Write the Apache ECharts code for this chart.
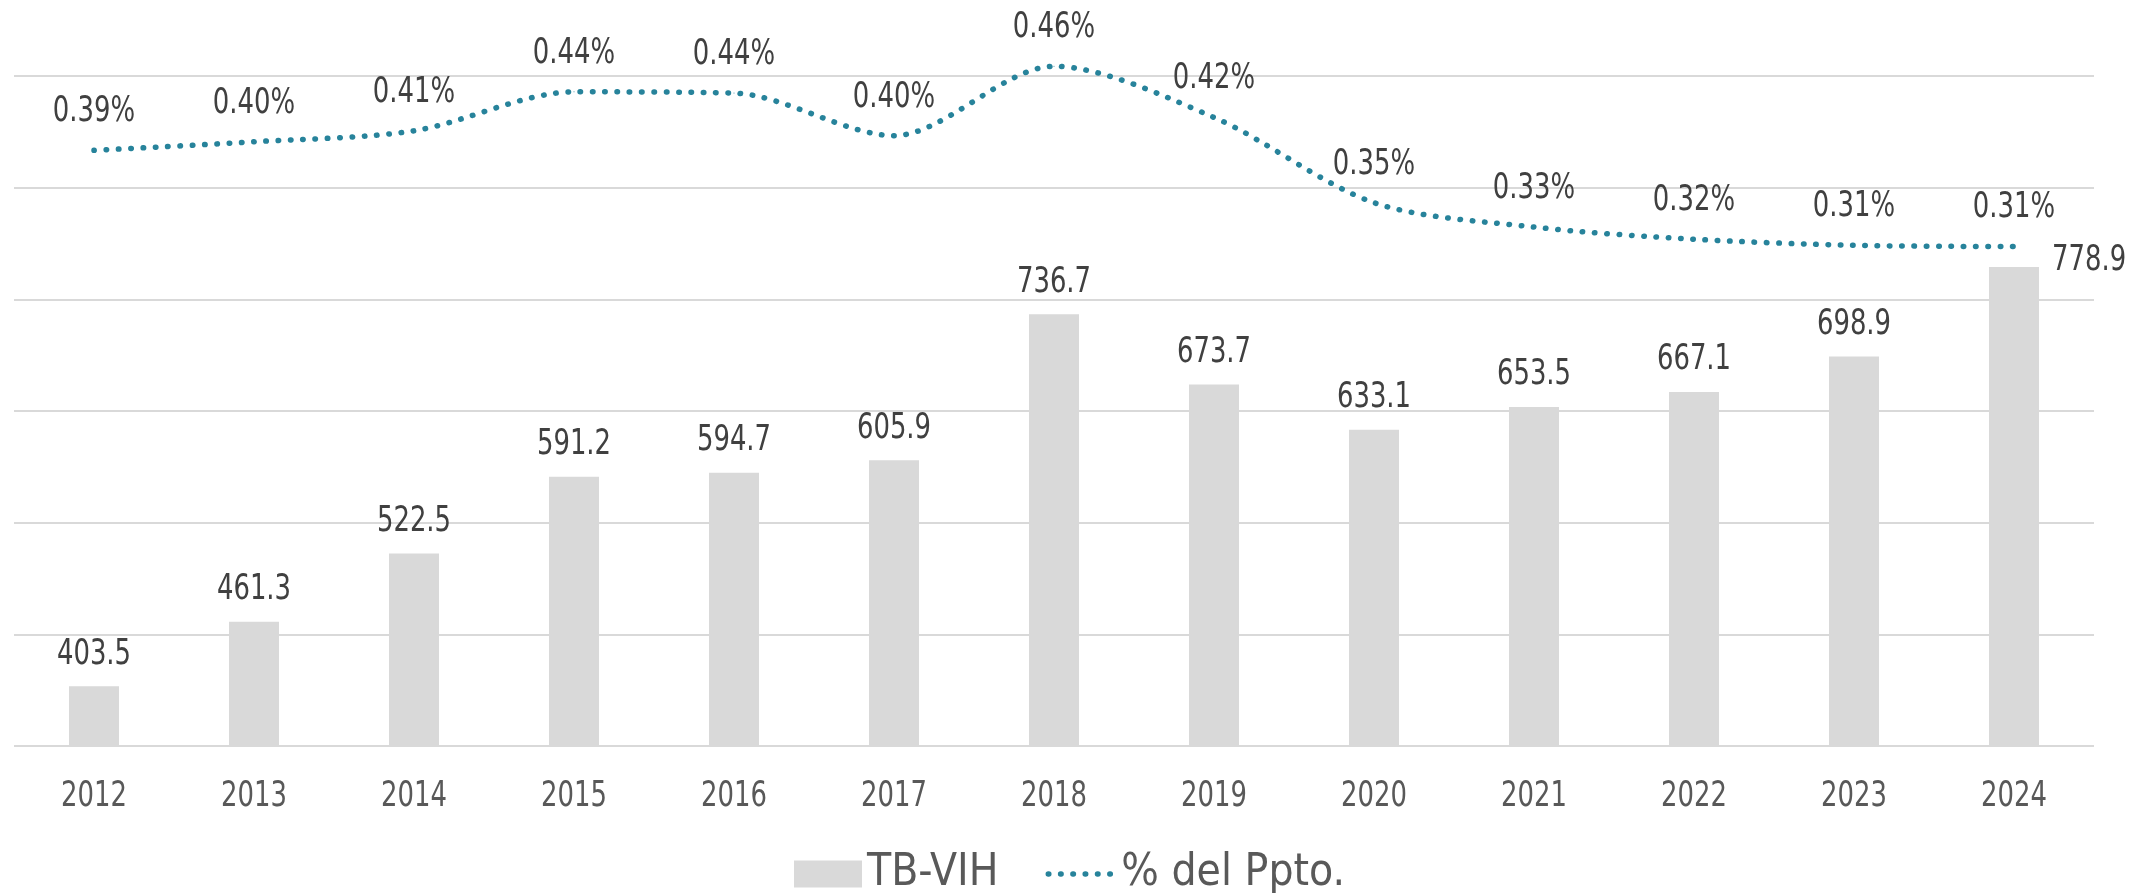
<!DOCTYPE html>
<html>
<head>
<meta charset="utf-8">
<script src="https://cdn.jsdelivr.net/npm/echarts@6/dist/echarts.min.js"></script>
<style>
html,body{margin:0;padding:0;background:#fff;}
#chart{width:2151px;height:893px;}
</style>
</head>
<body>
<div id="chart"></div>
<script>
const years = ['2012','2013','2014','2015','2016','2017','2018','2019','2020','2021','2022','2023','2024'];
const tbVih = [403.5, 461.3, 522.5, 591.2, 594.7, 605.9, 736.7, 673.7, 633.1, 653.5, 667.1, 698.9, 778.9];
const pctPpto = [0.389, 0.396, 0.405, 0.437, 0.436, 0.401, 0.458, 0.416, 0.346, 0.326, 0.316, 0.311, 0.310];
const seriesNames = ['TB-VIH', '% del Ppto.'];

const FONT = '"DejaVu Sans Condensed", "Liberation Sans", sans-serif';
const LABEL_SIZE = 36;
const chart = echarts.init(document.getElementById('chart'), null, {renderer: 'canvas'});

const barData = tbVih.map((v, i) => i === tbVih.length - 1 ? {
  value: v,
  label: {position: ['100%', 0], align: 'left', verticalAlign: 'middle', offset: [13, -6]}
} : v);

chart.setOption({
  animation: false,
  backgroundColor: '#ffffff',
  textStyle: {fontFamily: FONT},
  grid: {left: 14, right: 57, top: 76, bottom: 147, containLabel: false},
  legend: {
    left: 789, top: 847,
    itemWidth: 68, itemHeight: 27, itemGap: 47,
    textStyle: {fontFamily: FONT, fontSize: 44, color: '#595959'},
    data: [
      {name: seriesNames[0], icon: 'rect'},
      {name: seriesNames[1], itemStyle: {opacity: 0},
        lineStyle: {color: '#27839b', width: 5.5, type: [0.5, 11.8], cap: 'round'}}
    ]
  },
  xAxis: {
    type: 'category',
    data: years,
    boundaryGap: true,
    axisLine: {show: false},
    axisTick: {show: false},
    axisLabel: {fontFamily: FONT, fontSize: LABEL_SIZE, color: '#595959', margin: 33}
  },
  yAxis: [
    {type: 'value', min: 350, max: 950, show: false},
    {type: 'value', min: -0.1, max: 0.45, show: false},
    {type: 'value', min: 0, max: 6, interval: 1, position: 'left',
      axisLine: {show: false}, axisTick: {show: false}, axisLabel: {show: false},
      splitLine: {show: true, lineStyle: {color: '#d9d9d9', width: 2}}}
  ],
  series: [
    {
      name: seriesNames[0],
      type: 'bar',
      yAxisIndex: 0,
      barWidth: 50,
      itemStyle: {color: '#d9d9d9'},
      label: {show: true, position: 'top', distance: 14, fontFamily: FONT, fontSize: LABEL_SIZE, color: '#404040',
        formatter: p => p.value.toFixed(1)},
      data: barData,
      z: 2
    },
    {
      name: seriesNames[1],
      type: 'line',
      yAxisIndex: 1,
      smooth: 0.3,
      clip: false,
      symbol: 'circle',
      symbolSize: 1,
      showSymbol: true,
      itemStyle: {color: '#27839b'},
      lineStyle: {color: '#27839b', width: 5.5, type: [0.5, 11.8], cap: 'round'},
      label: {show: true, position: 'top', distance: 20, fontFamily: FONT, fontSize: LABEL_SIZE, color: '#404040',
        formatter: p => p.value.toFixed(2) + '%'},
      data: pctPpto,
      z: 3
    }
  ]
});

// The reference uses a narrow typeface; narrow the 36px text spans horizontally around their anchor.
function narrowTexts() {
  const zr = chart.getZr();
  const list = zr.storage.getDisplayList(true);
  list.forEach(el => {
    if ((el.type === 'tspan' || el.type === 'text') && el.style) {
      const font = String(el.style.font || '') + ' ' + String(el.style.fontSize || '');
      if (font.indexOf(LABEL_SIZE + 'px') >= 0 || el.style.fontSize === LABEL_SIZE) {
        el.scaleX = 0.8;
        el.markRedraw();
      }
    }
  });
  zr.refresh();
}
narrowTexts();
setTimeout(narrowTexts, 0);
</script>
</body>
</html>
